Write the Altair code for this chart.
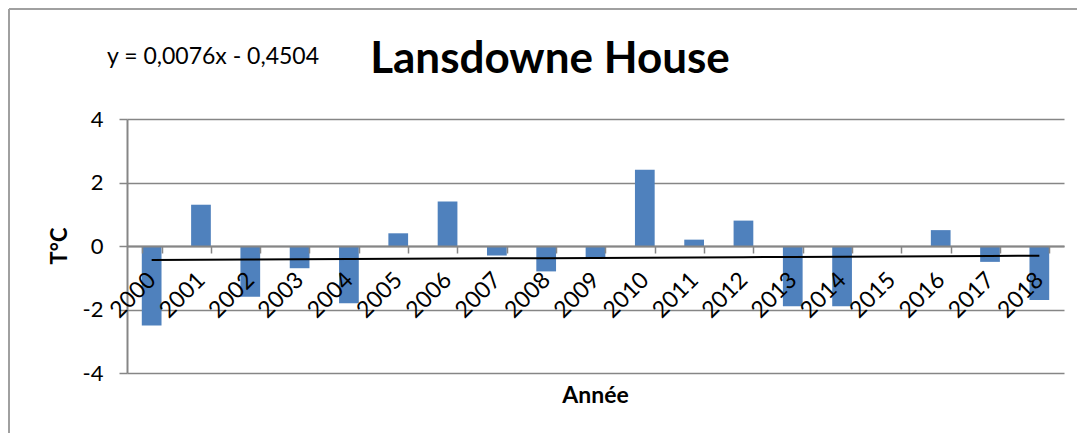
import altair as alt
import pandas as pd

# ---- data ----
years = [str(y) for y in range(2000, 2019)]
values = [-2.5, 1.3, -1.6, -0.7, -1.8, 0.4, 1.4, -0.3, -0.8, -0.4,
          2.4, 0.2, 0.8, -1.9, -1.9, 0.0, 0.5, -0.5, -1.7]
trend_slope = 0.0076
trend_intercept = -0.4504
y_ticks = [-4, -2, 0, 2, 4]

title_text = "Lansdowne House"
equation_text = "y = 0,0076x - 0,4504"
x_title = "Année"
y_title = "T°C"

FONT = "Lato"
GRAY = "#868686"
BLUE = "#4F81BD"

W, H = 937, 254
PAD = {"left": 119, "top": 111, "right": 13, "bottom": 60}

df = pd.DataFrame({"year": years, "value": values})
df["idx"] = range(1, len(years) + 1)
df["trend"] = trend_slope * df["idx"] + trend_intercept

one = pd.DataFrame({"a": [0]})

x_enc = alt.X(
    "year:N", sort=years,
    scale=alt.Scale(paddingInner=0.6, paddingOuter=0.3),
    axis=alt.Axis(
        title=None, offset=-H / 2, labelAngle=-45, labelAlign="right",
        labelBaseline="middle", labelPadding=23, tickBand="extent",
        tickSize=7, tickColor=GRAY, tickWidth=1.5, domainColor=GRAY,
        domainWidth=2, labelFont=FONT, labelFontSize=23, labelColor="black",
        labelOverlap=False, grid=False, zindex=1,
    ),
)
y_scale = alt.Scale(domain=[-4, 4], nice=False)

bars = alt.Chart(df).mark_bar(color=BLUE).encode(
    x=x_enc,
    y=alt.Y(
        "value:Q", scale=y_scale,
        axis=alt.Axis(
            values=y_ticks, title=None, grid=True, gridColor=GRAY,
            gridWidth=1.5, domainColor=GRAY, domainWidth=2, tickColor=GRAY,
            tickSize=8, tickWidth=1.5, labelFont=FONT, labelFontSize=22,
            labelPadding=16, labelColor="black",
            labelExpr="'' + datum.value",
        ),
    ),
)

trend = alt.Chart(df).mark_line(color="black", strokeWidth=2).encode(
    x=alt.X("year:N", sort=years),
    y=alt.Y("trend:Q", scale=y_scale),
)

border_top = alt.Chart(one).mark_rule(color="#a0a0a0", strokeWidth=2).encode(
    x=alt.value(-PAD["left"] + 1), x2=alt.value(W + PAD["right"]),
    y=alt.value(-PAD["top"] + 1),
)
border_left = alt.Chart(one).mark_rule(color="#a0a0a0", strokeWidth=2).encode(
    x=alt.value(-PAD["left"] + 1),
    y=alt.value(-PAD["top"] + 1), y2=alt.value(H + PAD["bottom"]),
)

title = alt.Chart(one).mark_text(
    text=title_text, font=FONT, fontSize=44, fontWeight="bold",
    align="center", baseline="alphabetic", color="black",
).encode(x=alt.value(423), y=alt.value(-46))

equation = alt.Chart(one).mark_text(
    text=equation_text, font=FONT, fontSize=23, align="left",
    baseline="alphabetic", color="black",
).encode(x=alt.value(-20), y=alt.value(-55))

xtitle = alt.Chart(one).mark_text(
    text=x_title, font=FONT, fontSize=23, fontWeight="bold",
    align="center", baseline="alphabetic", color="black",
).encode(x=alt.value(W / 2), y=alt.value(284))

ytitle = alt.Chart(one).mark_text(
    text=y_title, font=FONT, fontSize=22, fontWeight="bold", angle=270,
    align="center", baseline="middle", color="black",
).encode(x=alt.value(-67), y=alt.value(H / 2))

chart = alt.layer(
    border_top, border_left, bars, trend, title, equation, xtitle, ytitle
).properties(
    width=W, height=H,
    autosize=alt.AutoSizeParams(type="none"),
    padding=PAD,
).configure_view(stroke=None)

chart.save("out.html", embed_options={"renderer": "svg", "actions": False})
